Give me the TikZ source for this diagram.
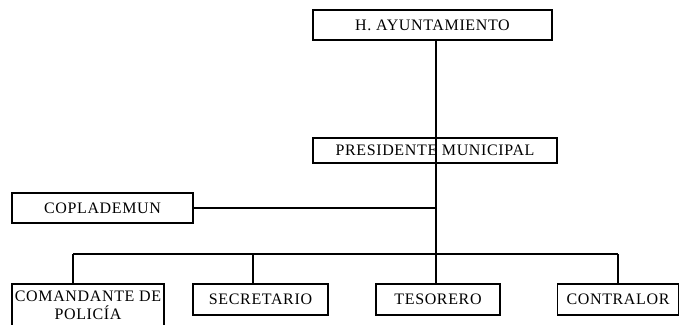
\documentclass[tikz,border=0pt]{standalone}
\usepackage{fontspec}
\setmainfont{Liberation Serif}[LetterSpace=4]
\usetikzlibrary{positioning}

\begin{document}
\begin{tikzpicture}[
		x=1pt, y=-1pt,
		line width=1.2pt,
		box/.style={draw, line width=1.2pt, inner sep=0pt, align=center,
			font=\fontsize{16}{18}\selectfont},
	]
		\path[use as bounding box, clip] (0,0) rectangle (680,324);

		\node[box, minimum width=239pt, minimum height=30pt] (ayto) at (432.5,25) {H. AYUNTAMIENTO};
		\node[box, minimum width=244pt, minimum height=25pt] (pres) at (435,150.5) {PRESIDENTE MUNICIPAL};
		\node[box, minimum width=181pt, minimum height=30pt] (copla) at (102.5,208) {COPLADEMUN};

		\node[box, minimum width=152pt, minimum height=43pt] (coman) at (88,305.5) {COMANDANTE DE\\POLICÍA};
		\node[box, minimum width=135pt, minimum height=31pt] (secr) at (260.5,299.5) {SECRETARIO};
		\node[box, minimum width=124pt, minimum height=31pt] (teso) at (438,299.5) {TESORERO};
		\node[box, minimum width=121pt, minimum height=31pt] (contra) at (618,299.5) {CONTRALOR};

		% bus
		\coordinate (bus) at (436,254);
		\coordinate (j1) at (73,254);
		\coordinate (j2) at (253,254);
		\coordinate (j4) at (618,254);

		\draw (ayto.south -| bus) -- (bus);
		\draw (copla.east) -- (copla.east -| bus);
		\draw (j1) -- (j4);

		\draw (j1) -- (j1 |- coman.north);
		\draw (j2) -- (j2 |- secr.north);
		\draw (bus) -- (bus |- teso.north);
		\draw (j4) -- (j4 |- contra.north);
	\end{tikzpicture}
\end{document}
